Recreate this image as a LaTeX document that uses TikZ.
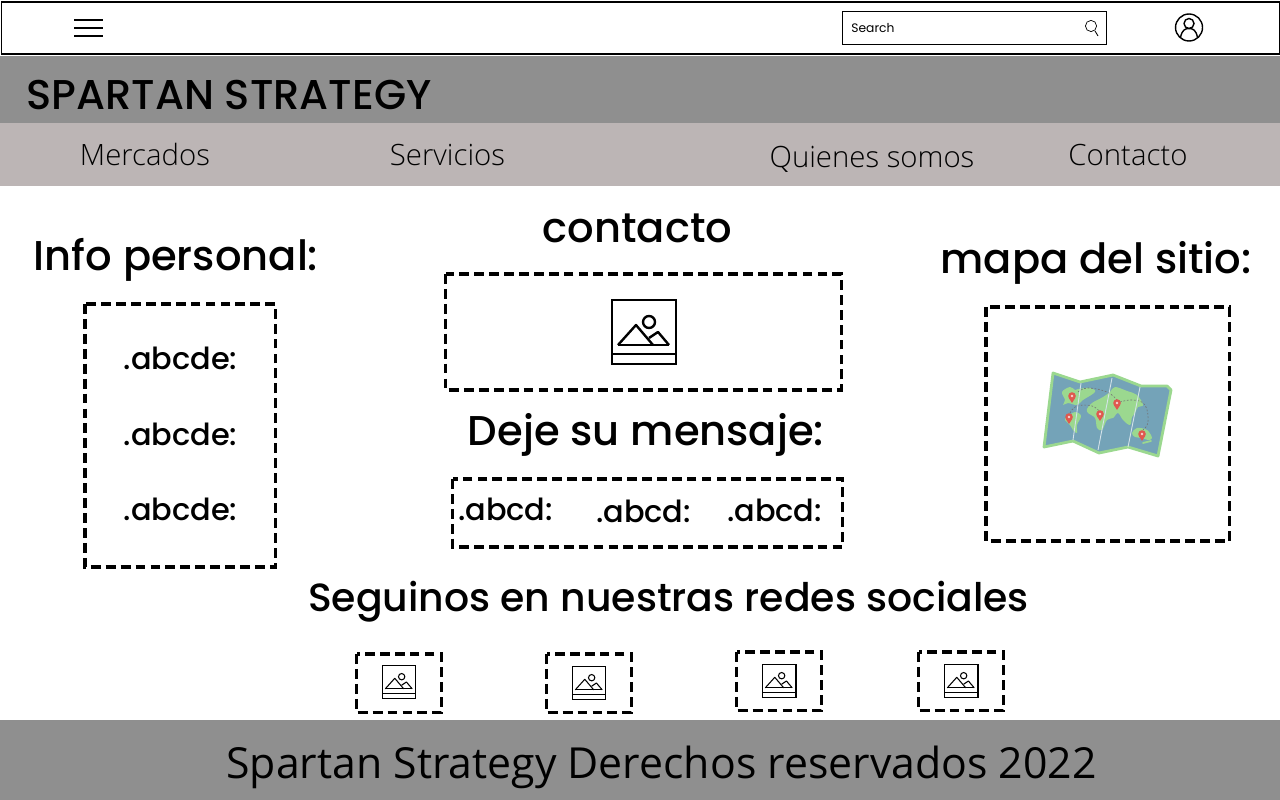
\documentclass[tikz,border=0pt]{standalone}
\usepackage{fontspec}
\setmainfont{Poppins}
\newfontfamily\popmedium{Poppins Medium}
\newfontfamily\opensans{Open Sans}
\newfontfamily\opensanslight{Open Sans Light}
\usetikzlibrary{positioning}

\definecolor{bandgray}{HTML}{8F8F8F}
\definecolor{navgray}{HTML}{BCB5B5}
\definecolor{mapblue}{HTML}{74A3B8}
\definecolor{mapgreen}{HTML}{9BD88F}
\definecolor{pinred}{HTML}{E0584F}

\tikzset{
    dashbox/.style={draw, line width=2pt, dash pattern=on 5.6pt off 2.9pt},
    navlabel/.style={font=\opensanslight\fontsize{16.7}{20}\selectfont},
    headlabel/.style={font=\popmedium\fontsize{23.7}{28}\selectfont},
    itemlabel/.style={font=\popmedium\fontsize{17.3}{20}\selectfont},
    pics/imageicon/.style={code={
        \draw[line width=#1] (-32,-32) rectangle (32,32);
        \draw[line width=#1] (-32,22) -- (32,22);
        \draw[line width=#1, line join=round] (-26,13) -- (-8,-7) -- (9,13);
        \draw[line width=#1, line join=round] (5,6) -- (14,0) -- (25,13);
        \draw[line width=#1] (-26,13) -- (25,13);
        \draw[line width=#1] (5,-10) circle (6);
    }},
}
\newcommand{\mappin}[2]{%
    \fill[pinred] (#1,#2) circle (3.8);
    \fill[pinred] (#1-3.4,#2+1.6) -- (#1,#2+7) -- (#1+3.4,#2+1.6) -- cycle;
    \fill[white!75!pinred] (#1,#2) circle (1.4);
}

\begin{document}
\begin{tikzpicture}[x=0.02cm,y=-0.02cm]
    \useasboundingbox (0,0) rectangle (1280,800);
    % Barra superior
    \node[draw, line width=1.1pt, minimum width=1278*0.02cm, minimum height=52*0.02cm, inner sep=0, anchor=north west] (topbar) at (0.5,1) {};
    \coordinate (menuL) at (74,20);
    \coordinate (menuR) at (103,20);
    \draw[line width=0.9pt] (menuL) -- (menuR);
    \draw[line width=0.9pt] (74,28) -- (103,28);
    \draw[line width=0.9pt] (74,36) -- (103,36);
    \node[draw, line width=0.55pt, minimum width=264*0.02cm, minimum height=33*0.02cm, inner sep=0, anchor=north west] (searchbox) at (842,11.5) {};
    \node[anchor=west, inner sep=0, font=\fontsize{7}{9}\selectfont] (searchtext) at (851,28) {Search};
    \draw[line width=0.4pt] (1091,26) circle (5.6);
    \draw[line width=0.5pt] (1095,31) -- (1098,36);
    \draw[line width=0.8pt] (1189,27.5) circle (13.5);
    \draw[line width=0.8pt] (1189,23.5) circle (5);
    \draw[line width=0.8pt] (1180.5,37.5) .. controls (1182,30) and (1185,28.5) .. (1189,28.5) .. controls (1193,28.5) and (1196,30) .. (1197.5,37.5);

    % Bandas
    \fill[bandgray] (0,56) rectangle (1280,123);
    \fill[navgray] (0,123) rectangle (1280,186);
    \fill[bandgray] (0,720) rectangle (1280,800);
    \node[anchor=west, inner sep=0, font=\popmedium\fontsize{23.7}{28}\selectfont] (brand) at (26,95) {SPARTAN STRATEGY};
    \node[navlabel] (mercados) at (145,154.5) {Mercados};
    \node[navlabel] (servicios) at (447.5,155) {Servicios};
    \node[navlabel] (quienes) at (872,159) {Quienes somos};
    \node[navlabel] (contactonav) at (1128,155) {Contacto};
    \node[font=\opensans\fontsize{24.35}{30}\selectfont] (footer) at (661.5,767) {Spartan Strategy Derechos reservados 2022};

    % Titulos
    \node[headlabel] (infotitle) at (176,260) {Info personal:};
    \node[headlabel] (contactotitle) at (637.5,228) {contacto};
    \node[headlabel] (mapatitle) at (1096,263) {mapa del sitio:};
    \node[headlabel] (dejetitle) at (646,435) {Deje su mensaje:};
    \node[font=\popmedium\fontsize{22.4}{26}\selectfont] (redestitle) at (668.5,602) {Seguinos en nuestras redes sociales};

    % Cajas
    \draw[dashbox] (85,304) rectangle (275.5,567);
    \draw[dashbox] (445.5,274) rectangle (841.5,390);
    \draw[dashbox] (452.5,479) rectangle (842.5,547);
    \draw[dashbox] (986,307) rectangle (1229.5,541);
    \draw[dashbox] (356.5,654) rectangle (441.5,712.5);
    \draw[dashbox] (546.5,654) rectangle (631.5,712.5);
    \draw[dashbox] (736.5,652) rectangle (821.5,710.5);
    \draw[dashbox] (918.5,652) rectangle (1003.5,710.5);

    \node[itemlabel] (itemA) at (180.5,358) {.abcde:};
    \node[itemlabel] (itemB) at (180.5,434) {.abcde:};
    \node[itemlabel] (itemC) at (180.5,509) {.abcde:};
    \node[itemlabel] (msgA) at (505.5,509) {.abcd:};
    \node[itemlabel] (msgB) at (643.5,511) {.abcd:};
    \node[itemlabel] (msgC) at (774.5,510) {.abcd:};

    \pic at (644,332) {imageicon=1.35pt};
    \pic[scale=0.53] at (399,682) {imageicon=0.6pt};
    \pic[scale=0.53] at (589,683) {imageicon=0.6pt};
    \pic[scale=0.53] at (779,681) {imageicon=0.6pt};
    \pic[scale=0.53] at (961,681) {imageicon=0.6pt};

    % Mapa
    \draw[mapgreen, fill=mapblue, line width=1.6pt, line join=round]
        (1053,373) -- (1080,382) -- (1113,375) -- (1141,386) -- (1167,386) -- (1171,390)
        -- (1158,456) -- (1128,447) -- (1099,453) -- (1073,441) -- (1044,447) -- cycle;
    \fill[mapgreen] plot[smooth cycle, tension=0.6] coordinates {(1062,392) (1070,387) (1075,390) (1078,389) (1090,388) (1095,392) (1083,400) (1077,405) (1068,403) (1063,405) (1065,400)};
    \fill[mapgreen] plot[smooth cycle, tension=0.6] coordinates {(1067,417) (1075,412) (1081,416) (1077,425) (1077,433) (1073,430) (1070,425) (1065,420)};
    \fill[mapgreen] plot[smooth cycle, tension=0.6] coordinates {(1087,409) (1092,403) (1103,397) (1110,392) (1115,387) (1127,391) (1137,395) (1143,405) (1138,407) (1135,413) (1132,417) (1130,425) (1123,420) (1118,413) (1113,418) (1107,420) (1102,430) (1097,428) (1095,418) (1088,413)};
    \fill[mapgreen] plot[smooth cycle, tension=0.6] coordinates {(1132,433) (1137,428) (1147,430) (1152,438) (1148,440) (1142,438) (1135,437)};
    \draw[mapgreen, line width=1pt, line cap=round] (1143,443) -- (1151,441);
    \draw[black!55, line width=0.35pt, dash pattern=on 1pt off 1pt]
        plot[smooth, tension=0.7] coordinates {(1078,392) (1088,388) (1107,392) (1117,400)};
    \draw[black!55, line width=0.35pt, dash pattern=on 1pt off 1pt]
        plot[smooth, tension=0.7] coordinates {(1070,413) (1077,406) (1092,406) (1100,412)};
    \draw[black!55, line width=0.35pt, dash pattern=on 1pt off 1pt]
        plot[smooth, tension=0.7] coordinates {(1120,402) (1133,400) (1145,405) (1148,422) (1143,430)};
    \draw[white!70!mapblue, line width=0.5pt] (1081,383) -- (1073,440);
    \draw[white!70!mapblue, line width=0.5pt] (1112,378) -- (1098,450);
    \draw[white!70!mapblue, line width=0.5pt] (1140,387) -- (1128,447);
    \mappin{1072}{396}
    \mappin{1069}{417}
    \mappin{1100}{414}
    \mappin{1117}{403}
    \mappin{1142}{434}
\end{tikzpicture}
\end{document}
